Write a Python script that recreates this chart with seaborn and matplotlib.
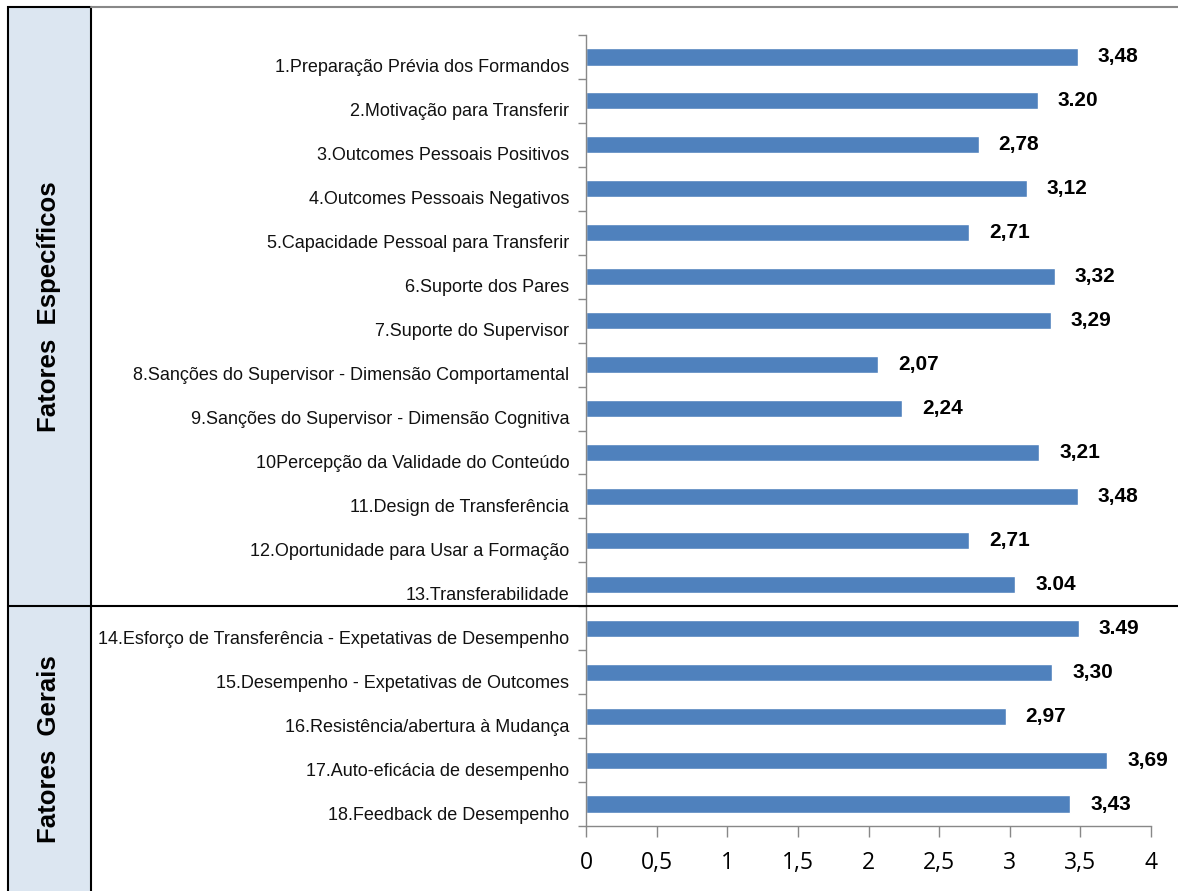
import matplotlib
matplotlib.use("Agg")
import matplotlib.pyplot as plt
import matplotlib.transforms as mtransforms
from matplotlib.patches import Rectangle
from matplotlib.lines import Line2D
from matplotlib.ticker import FuncFormatter, FixedLocator, MultipleLocator
import seaborn as sns
import pandas as pd

categories = [
    "1.Preparação Prévia dos Formandos",
    "2.Motivação para Transferir",
    "3.Outcomes Pessoais Positivos",
    "4.Outcomes Pessoais Negativos",
    "5.Capacidade Pessoal para Transferir",
    "6.Suporte dos Pares",
    "7.Suporte do Supervisor",
    "8.Sanções do Supervisor - Dimensão Comportamental",
    "9.Sanções do Supervisor - Dimensão Cognitiva",
    "10Percepção da Validade do Conteúdo",
    "11.Design de Transferência",
    "12.Oportunidade para Usar a Formação",
    "13.Transferabilidade",
    "14.Esforço de Transferência - Expetativas de Desempenho",
    "15.Desempenho - Expetativas de Outcomes",
    "16.Resistência/abertura à Mudança",
    "17.Auto-eficácia de desempenho",
    "18.Feedback de Desempenho",
]
values = [3.48, 3.20, 2.78, 3.12, 2.71, 3.32, 3.29, 2.07, 2.24, 3.21, 3.48, 2.71,
          3.04, 3.49, 3.30, 2.97, 3.69, 3.43]
value_labels = ["3,48", "3.20", "2,78", "3,12", "2,71", "3,32", "3,29", "2,07", "2,24",
                "3,21", "3,48", "2,71", "3.04", "3.49", "3,30", "2,97", "3,69", "3,43"]
groups = ["Fatores  Específicos", "Fatores  Gerais"]
group_sizes = [13, 5]

sns.set_theme(style="white")
plt.rcParams['font.family'] = ['Liberation Sans', 'DejaVu Sans']

W, H = 1178, 891
fig = plt.figure(figsize=(W / 100, H / 100), dpi=100)
ax = fig.add_axes([586 / W, 1 - 826 / H, (1151 - 586) / W, (826 - 35) / H])

df = pd.DataFrame({"cat": categories, "val": values})
sns.barplot(data=df, y="cat", x="val", orient="h", color="#4F81BD", width=0.39,
            saturation=1, ax=ax)

ax.set_xlim(0, 4)
ax.set_ylim(len(categories) - 0.5, -0.5)
ax.set_xlabel("")
ax.set_ylabel("")

ax.xaxis.set_major_locator(MultipleLocator(0.5))
ax.xaxis.set_major_formatter(FuncFormatter(lambda v, p: f"{v:g}".replace(".", ",")))
ax.tick_params(axis="x", length=8, width=1, color="#888888", direction="out",
               labelsize=16.5, pad=10, bottom=True, labelcolor="black")
for t in ax.get_xticklabels():
    t.set_fontfamily(['Open Sans', 'Liberation Sans'])

ax.yaxis.set_minor_locator(FixedLocator([i - 0.5 for i in range(len(categories) + 1)]))
ax.tick_params(axis="y", which="major", length=0, labelsize=13, pad=12, left=False)
ax.tick_params(axis="y", which="minor", length=6, width=1, color="#888888",
               direction="out", left=True)
offset = mtransforms.ScaledTranslation(0, -9 / 100, fig.dpi_scale_trans)
for t in ax.get_yticklabels():
    t.set_fontfamily(['Liberation Sans Narrow', 'Liberation Sans'])
    t.set_color("#111111")
    t.set_transform(t.get_transform() + offset)

for s in ["top", "right"]:
    ax.spines[s].set_visible(False)
for s in ["left", "bottom"]:
    ax.spines[s].set_color("#888888")
    ax.spines[s].set_linewidth(1)

for i, (v, lab) in enumerate(zip(values, value_labels)):
    ax.annotate(lab, xy=(v, i), xytext=(20, 0), textcoords="offset pixels",
                ha="left", va="center", fontsize=15, fontweight="bold",
                family=['Liberation Sans Narrow', 'Liberation Sans'], color="black")

# left group panel
fig.canvas.draw()
to_fig = ax.transData + fig.transFigure.inverted()
sep_y = to_fig.transform((0, group_sizes[0] - 0.5))[1]
top_y = 1 - 7 / H
px0, px1 = 8 / W, 91 / W
fig.add_artist(Rectangle((px0, -0.02), px1 - px0, top_y + 0.02, transform=fig.transFigure,
                         facecolor="#DCE6F1", edgecolor="black", linewidth=1.5, zorder=0))
fig.add_artist(Line2D([px1, 1], [top_y, top_y], transform=fig.transFigure,
                      color="#888888", linewidth=1.5))
fig.add_artist(Line2D([px0, 1], [sep_y, sep_y], transform=fig.transFigure,
                      color="black", linewidth=1.5))
centers = [(top_y + sep_y) / 2, sep_y / 2]
for g, cy in zip(groups, centers):
    fig.text((px0 + px1) / 2, cy, g, rotation=90, ha="center", va="center",
             fontsize=18.5, fontweight="bold", color="black")

fig.savefig("out.png", dpi=100)
